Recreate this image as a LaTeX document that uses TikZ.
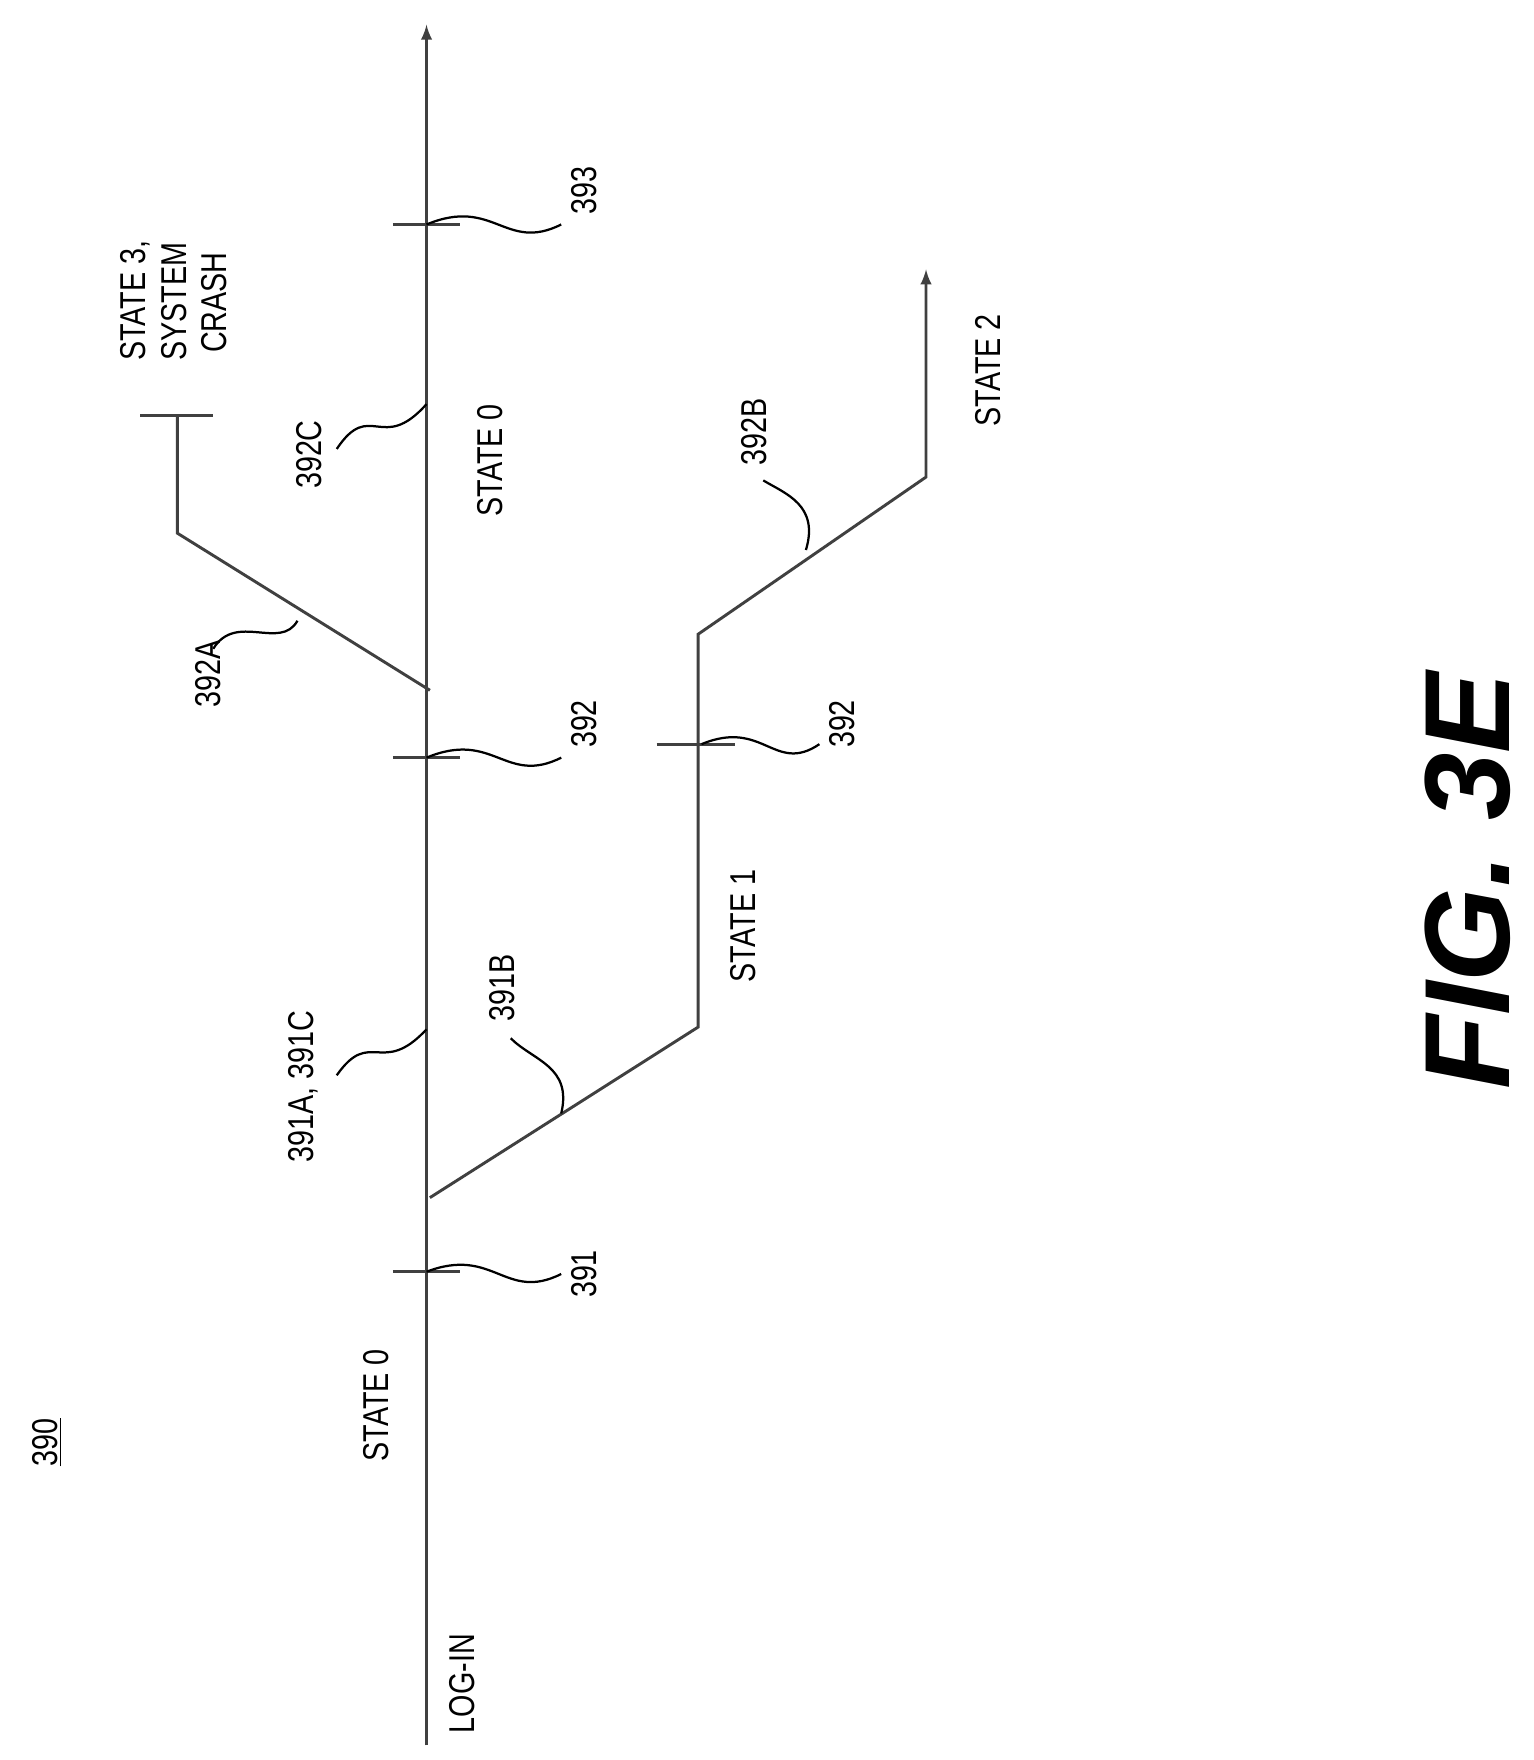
\documentclass[tikz,border=0pt]{standalone}
\usepackage{fontspec}
\setmainfont{Liberation Sans}
\begin{document}
\begin{tikzpicture}[x=0.5pt,y=-0.5pt,
  ln/.style={line width=1.3pt, draw=black!75},
  lbl/.style={rotate=90, font=\fontsize{16}{18}\selectfont, inner sep=1pt, xscale=0.8, align=center},
  sq/.style={line width=1pt}]
\useasboundingbox (0,0) rectangle (1366,1568);
% main axis
\coordinate (a0) at (380,1555);
\coordinate (a1) at (380,22);
\draw[ln,-latex] (a0) -- (a1);
\foreach \n/\y in {t391/1133,t392/675,t393/200}{
  \coordinate (\n) at (380,\y);
  \draw[ln] (350,\y) -- (410,\y);}
\draw[ln] (585,663) -- (655,663);
% branch B
\coordinate (b0) at (383,1067);
\coordinate (b1) at (622,915);
\coordinate (b2) at (622,565);
\coordinate (b3) at (825,425);
\coordinate (b4) at (825,240);
\draw[ln,-latex] (b0) -- (b1) -- (b2) -- (b3) -- (b4);
% branch A
\coordinate (c0) at (383,615);
\coordinate (c1) at (158,475);
\coordinate (c2) at (158,370);
\draw[ln] (c0) -- (c1) -- (c2);
\draw[ln] (125,370) -- (190,370);
% labels
\node[lbl] (n390) at (42,1285) {\underline{390}};
\node[lbl] (login) at (412,1500) {LOG-IN};
\node[lbl] (s0a) at (335,1252) {STATE 0};
\node[lbl] (l391) at (520,1135) {391};
\node[lbl] (l391ac) at (270,968) {391A, 391C};
\node[lbl] (l391b) at (447,880) {391B};
\node[lbl] (s1) at (662,825) {STATE 1};
\node[lbl] (l392a) at (520,645) {392};
\node[lbl] (l392b) at (750,645) {392};
\node[lbl] (l392A) at (185,600) {392A};
\node[lbl] (l392C) at (275,405) {392C};
\node[lbl] (s0b) at (437,410) {STATE 0};
\node[lbl, align=left] (s3) at (155,268) {STATE 3,\\SYSTEM\\\ CRASH};
\node[lbl] (l393) at (520,170) {393};
\node[lbl] (l392B) at (672,385) {392B};
\node[lbl] (s2) at (880,330) {STATE 2};
\node[rotate=90, font=\fontsize{54}{60}\selectfont\bfseries\itshape] (fig) at (1308,785) {FIG. 3E};
% leaders
\draw[sq] (t391) .. controls (440,1110) and (450,1160) .. (500,1135);
\draw[sq] (t392) .. controls (440,650) and (450,700) .. (500,675);
\draw[sq] (t393) .. controls (440,175) and (450,225) .. (500,200);
\draw[sq] (625,663) .. controls (680,640) and (690,690) .. (730,663);
\draw[sq] (380,917) .. controls (340,960) and (330,915) .. (300,958);
\draw[sq] (380,360) .. controls (340,405) and (330,355) .. (300,400);
\draw[sq] (265,553) .. controls (250,580) and (210,545) .. (190,578);
\draw[sq] (500,992) .. controls (510,950) and (475,945) .. (455,925);
\draw[sq] (718,490) .. controls (730,450) and (700,440) .. (680,428);
\end{tikzpicture}
\end{document}
